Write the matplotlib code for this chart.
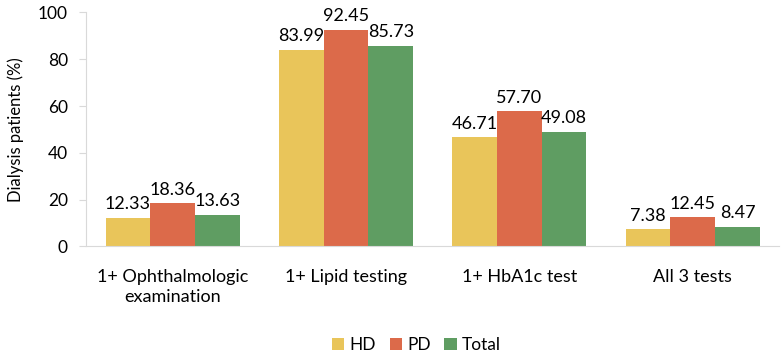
import numpy as np
import matplotlib.pyplot as plt

categories = ['1+ Ophthalmologic\nexamination', '1+ Lipid testing', '1+ HbA1c test', 'All 3 tests']
hd = [12.33, 83.99, 46.71, 7.38]
pd_vals = [18.36, 92.45, 57.70, 12.45]
total = [13.63, 85.73, 49.08, 8.47]

plt.rcParams['font.family'] = ['Lato', 'DejaVu Sans']

fig = plt.figure(figsize=(7.81, 3.58), dpi=100)
ax = fig.add_axes([0.110, 0.3115, 0.888, 0.654])

x = np.arange(len(categories))
w = 0.258
series = [('HD', hd, '#E9C55A'), ('PD', pd_vals, '#DC6A4A'), ('Total', total, '#5F9D62')]
for i, (name, vals, col) in enumerate(series):
    bars = ax.bar(x + (i - 1) * w, vals, w, color=col, label=name)
    ax.bar_label(bars, labels=[f'{v:.2f}' for v in vals], padding=4, fontsize=13)

ax.set_xlim(-0.5, 3.5)
ax.set_ylim(0, 100)
ax.set_yticks(range(0, 101, 20))
ax.set_xticks(x)
ax.set_xticklabels(categories, fontsize=13, linespacing=1.3)
ax.tick_params(axis='x', length=0, pad=16)
ax.tick_params(axis='y', labelsize=12.5, length=5, color='#D9D9D9', pad=8)
ax.set_ylabel('Dialysis patients (%)', fontsize=12, labelpad=10)

for s in ['top', 'right']:
    ax.spines[s].set_visible(False)
ax.spines['left'].set_color('#D9D9D9')
ax.spines['bottom'].set_color('#D9D9D9')

fig.legend(loc='center', bbox_to_anchor=(0.533, 0.035), ncol=3, frameon=False,
           fontsize=12.5, handlelength=0.7, handleheight=0.7, columnspacing=0.8, handletextpad=0.3)

plt.savefig('out.png', dpi=100)
